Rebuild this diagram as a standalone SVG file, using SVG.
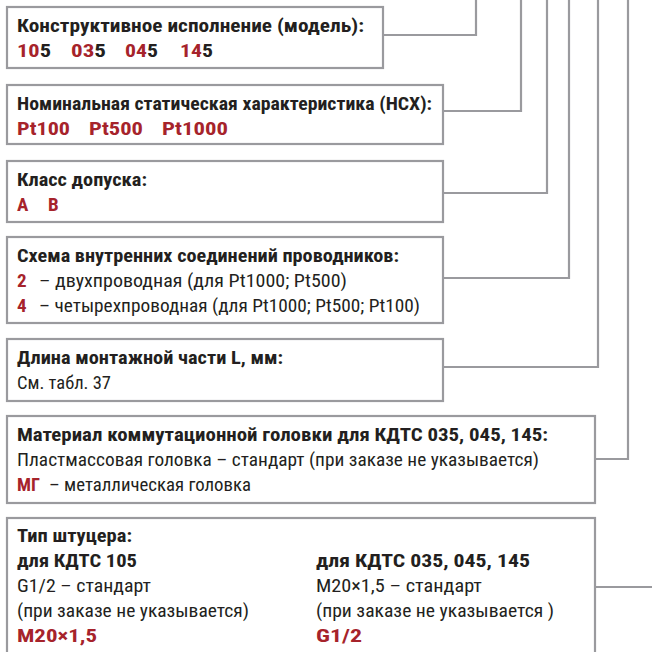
<svg xmlns="http://www.w3.org/2000/svg" width="652" height="652" viewBox="0 0 652 652">
  <style>
    .box { fill: #ffffff; stroke: #9a9a9e; stroke-width: 2.2; }
    .wire { fill: none; stroke: #9a9a9e; stroke-width: 2.2; }
    text { font-family: "Liberation Sans Narrow", "Roboto Condensed", Roboto, "Liberation Sans", sans-serif; font-size: 19px; fill: #231f20; }
    .b { font-weight: bold; }
    .r { fill: #a6232b; font-weight: bold; }
  </style>
  <rect width="652" height="652" fill="#ffffff"/>

  <!-- leader lines from each box up to the order code -->
  <g id="connectors">
    <polyline class="wire" points="383,35 476,35 476,0"/>
    <polyline class="wire" points="443,111 521,111 521,0"/>
    <polyline class="wire" points="443,193 547,193 547,0"/>
    <polyline class="wire" points="443,278 569,278 569,0"/>
    <polyline class="wire" points="443,367 598,367 598,0"/>
    <polyline class="wire" points="595,459 628,459 628,0"/>
    <polyline class="wire" points="595,587 652,587"/>
  </g>

  <g id="model">
    <rect class="box" x="7" y="7" width="376" height="61"/>
    <text class="b" x="17" y="32" textLength="347" lengthAdjust="spacingAndGlyphs">Конструктивное исполнение (модель):</text>
    <text class="b" x="17" y="57" textLength="34" lengthAdjust="spacingAndGlyphs"><tspan class="r">10</tspan>5</text>
    <text class="b" x="71" y="57" textLength="35" lengthAdjust="spacingAndGlyphs"><tspan class="r">03</tspan>5</text>
    <text class="b" x="125" y="57" textLength="33" lengthAdjust="spacingAndGlyphs"><tspan class="r">04</tspan>5</text>
    <text class="b" x="180" y="57" textLength="33" lengthAdjust="spacingAndGlyphs"><tspan class="r">14</tspan>5</text>
  </g>

  <g id="nsx">
    <rect class="box" x="7" y="85" width="436" height="59"/>
    <text class="b" x="17" y="110" textLength="415" lengthAdjust="spacingAndGlyphs">Номинальная статическая характеристика (НСХ):</text>
    <text class="r" x="17" y="135" textLength="53" lengthAdjust="spacingAndGlyphs">Pt100</text>
    <text class="r" x="89" y="135" textLength="54" lengthAdjust="spacingAndGlyphs">Pt500</text>
    <text class="r" x="162" y="135" textLength="66" lengthAdjust="spacingAndGlyphs">Pt1000</text>
  </g>

  <g id="tolerance">
    <rect class="box" x="7" y="161" width="436" height="61"/>
    <text class="b" x="17" y="186" textLength="130" lengthAdjust="spacingAndGlyphs">Класс допуска:</text>
    <text class="r" x="17" y="211">A</text>
    <text class="r" x="48" y="211">B</text>
  </g>

  <g id="wiring">
    <rect class="box" x="7" y="237" width="436" height="86"/>
    <text class="b" x="17" y="262" textLength="382" lengthAdjust="spacingAndGlyphs">Схема внутренних соединений проводников:</text>
    <text class="r" x="17" y="287">2</text>
    <text x="39" y="287" textLength="308" lengthAdjust="spacingAndGlyphs">– двухпроводная (для Pt1000; Pt500)</text>
    <text class="r" x="17" y="312">4</text>
    <text x="39" y="312" textLength="381" lengthAdjust="spacingAndGlyphs">– четырехпроводная (для Pt1000; Pt500; Pt100)</text>
  </g>

  <g id="length">
    <rect class="box" x="7" y="339" width="436" height="62"/>
    <text class="b" x="17" y="364" textLength="266" lengthAdjust="spacingAndGlyphs">Длина монтажной части L, мм:</text>
    <text x="17" y="389" textLength="94" lengthAdjust="spacingAndGlyphs">См. табл. 37</text>
  </g>

  <g id="head">
    <rect class="box" x="7" y="416" width="588" height="87"/>
    <text class="b" x="17" y="441" textLength="531" lengthAdjust="spacingAndGlyphs">Материал коммутационной головки для КДТС 035, 045, 145:</text>
    <text x="17" y="466" textLength="522" lengthAdjust="spacingAndGlyphs">Пластмассовая головка – стандарт (при заказе не указывается)</text>
    <text class="r" x="17" y="491" textLength="23" lengthAdjust="spacingAndGlyphs">МГ</text>
    <text x="49" y="491" textLength="202" lengthAdjust="spacingAndGlyphs">– металлическая головка</text>
  </g>

  <g id="fitting">
    <rect class="box" x="7" y="518" width="588" height="142"/>
    <text class="b" x="17" y="542" textLength="115" lengthAdjust="spacingAndGlyphs">Тип штуцера:</text>
    <text class="b" x="17" y="567" textLength="120" lengthAdjust="spacingAndGlyphs">для КДТС 105</text>
    <text x="17" y="592" textLength="134" lengthAdjust="spacingAndGlyphs">G1/2 – стандарт</text>
    <text x="17" y="617" textLength="232" lengthAdjust="spacingAndGlyphs">(при заказе не указывается)</text>
    <text class="r" x="17" y="642" textLength="80" lengthAdjust="spacingAndGlyphs">M20×1,5</text>
    <text class="b" x="316" y="567" textLength="214" lengthAdjust="spacingAndGlyphs">для КДТС 035, 045, 145</text>
    <text x="316" y="592" textLength="166" lengthAdjust="spacingAndGlyphs">M20×1,5 – стандарт</text>
    <text x="316" y="617" textLength="238" lengthAdjust="spacingAndGlyphs">(при заказе не указывается )</text>
    <text class="r" x="316" y="642" textLength="46" lengthAdjust="spacingAndGlyphs">G1/2</text>
  </g>
</svg>
